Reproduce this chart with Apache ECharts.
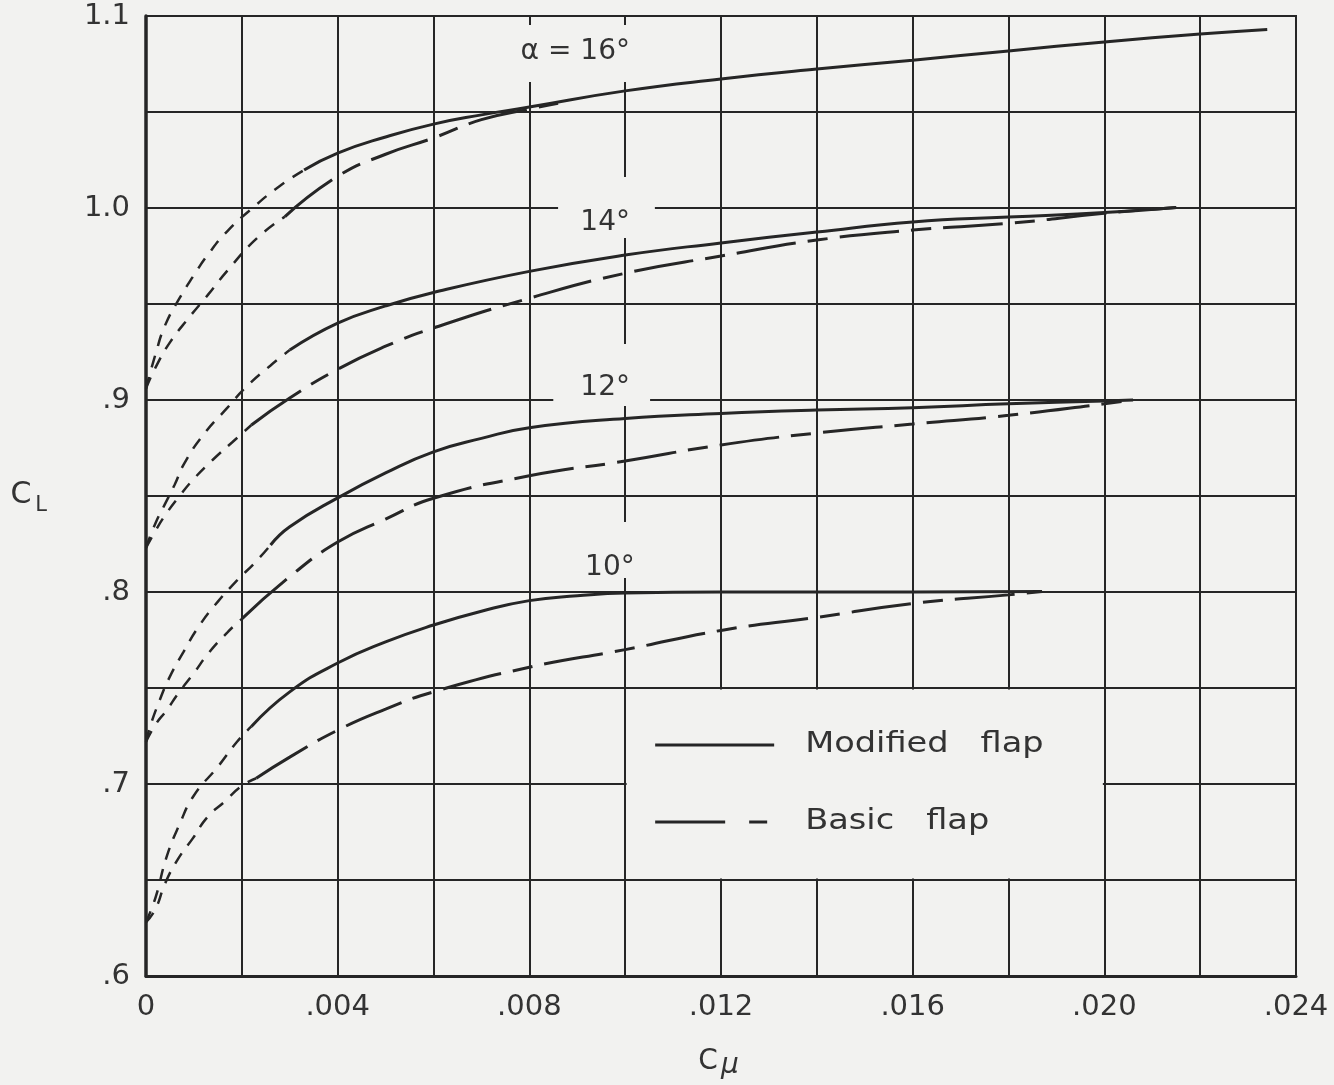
<!DOCTYPE html>
<html>
<head>
<meta charset="utf-8">
<title>CL vs Cmu</title>
<script src="https://cdn.jsdelivr.net/npm/echarts@6/dist/echarts.min.js"></script>
<style>
  html, body { margin: 0; padding: 0; background: #f2f2f0; }
  #main { width: 1334px; height: 1085px; }
</style>
</head>
<body>
<div id="main"></div>
<script>
// tick labels
var xTickLabels = ['0', '.004', '.008', '.012', '.016', '.020', '.024'];
var yTickLabels = ['.6', '.7', '.8', '.9', '1.0', '1.1'];

// alpha = 16 deg
var cmuMod16 = [0, .0002, .0004, .0007, .001, .0013, .0017, .0022, .0028, .0033, .004, .005, .006, .007, .008, .010, .012, .014, .016, .018, .020, .022, .0234];
var clMod16  = [.906, .924, .939, .953, .965, .976, .988, .9995, 1.0116, 1.0198, 1.0286, 1.037, 1.0437, 1.0485, 1.0526, 1.061, 1.0672, 1.0724, 1.077, 1.0818, 1.0865, 1.0906, 1.093];
var brkMod16 = 9;
var cmuBas16 = [0, .0002, .0005, .0009, .0013, .0017, .0023, .0029, .004, .005, .006, .007, .008, .0086];
var clBas16  = [.906, .917, .930, .943, .955, .9674, .9839, .9955, 1.0165, 1.028, 1.0365, 1.046, 1.0515, 1.0545];
var brkBas16 = 7;

// alpha = 14 deg
var cmuMod14 = [0, .0002, .0004, .0006, .0008, .0012, .0017, .0021, .0026, .003, .004, .005, .006, .008, .010, .012, .014, .016, .018, .020, .0215];
var clMod14  = [.823, .836, .846, .856, .867, .882, .896, .907, .918, .926, .940, .949, .956, .967, .9755, .9818, .9875, .9927, .9953, .9976, 1.0003];
var brkMod14 = 9;
var cmuBas14 = [0, .0002, .0004, .0007, .001, .0014, .0018, .0022, .003, .004, .005, .006, .008, .010, .012, .014, .016, .018, .020, .0215];
var clBas14  = [.823, .832, .840, .850, .859, .869, .878, .887, .901, .916, .928, .9375, .953, .966, .975, .9833, .9885, .992, .9972, 1.0003];
var brkBas14 = 7;

// alpha = 12 deg
var cmuMod12 = [0, .0001, .00026, .00048, .00078, .0011, .0015, .0019, .0023, .0026, .003, .004, .005, .006, .007, .008, .010, .012, .014, .016, .018, .020, .0206];
var clMod12  = [.722, .731, .742, .755, .7687, .782, .795, .806, .816, .8245, .834, .849, .862, .873, .880, .8856, .8904, .893, .8948, .896, .898, .8995, .9];
var brkMod12 = 9;
var cmuBas12 = [0, .0002, .00043, .00068, .001, .0013, .0017, .002, .003, .004, .005, .006, .008, .010, .012, .014, .016, .018, .020, .0206];
var clBas12  = [.722, .731, .7384, .7474, .7578, .768, .779, .786, .808, .826, .838, .8488, .8605, .8682, .8766, .8828, .8875, .892, .898, .9];
var brkBas12 = 7;

// alpha = 10 deg
var cmuMod10 = [0, .0002, .00043, .0007, .001, .0015, .0019, .0022, .003, .004, .005, .006, .007, .008, .009, .010, .012, .014, .016, .0187];
var clMod10  = [.628, .641, .662, .679, .694, .709, .722, .730, .748, .763, .774, .7828, .790, .7955, .798, .7995, .8, .8, .8, .8003];
var brkMod10 = 7;
var cmuBas10 = [0, .0002, .0004, .00067, .00098, .00128, .00163, .002, .0023, .003, .004, .005, .006, .008, .010, .012, .014, .016, .018, .0187];
var clBas10  = [.628, .635, .6483, .661, .6718, .6827, .6906, .699, .703, .714, .728, .739, .748, .7608, .770, .780, .7868, .794, .7985, .8003];
var brkBas10 = 8;

var INK = '#262626', PAPER = '#f2f2f0';
var FONT = '"DejaVu Sans", sans-serif';
var FAIRED = [12, 10];           // short dashes near Cmu = 0
var BASIC = [60, 12, 20, 12];    // long dash, basic flap

var chart = echarts.init(document.getElementById('main'));
var series = [];

// one curve = faired short-dash part + main part
function addCurve(cmu, cl, brk, mainType) {
  var pts = cmu.map(function (x, i) { return [x, cl[i]]; });
  var common = { type: 'line', showSymbol: false, symbol: 'none', smooth: 0.5, silent: true, z: 3 };
  series.push(Object.assign({}, common, {
    data: pts.slice(0, brk + 1),
    lineStyle: { color: INK, width: 2.5, type: FAIRED }
  }));
  series.push(Object.assign({}, common, {
    data: pts.slice(brk),
    lineStyle: { color: INK, width: 3, type: mainType }
  }));
}

addCurve(cmuMod16, clMod16, brkMod16, 'solid');
addCurve(cmuBas16, clBas16, brkBas16, BASIC);
addCurve(cmuMod14, clMod14, brkMod14, 'solid');
addCurve(cmuBas14, clBas14, brkBas14, BASIC);
addCurve(cmuMod12, clMod12, brkMod12, 'solid');
addCurve(cmuBas12, clBas12, brkBas12, BASIC);
addCurve(cmuMod10, clMod10, brkMod10, 'solid');
addCurve(cmuBas10, clBas10, brkBas10, BASIC);

chart.setOption({
  backgroundColor: PAPER,
  animation: false,
  grid: { left: 146, right: 38, top: 16, bottom: 109, show: true, borderColor: INK, borderWidth: 2 },
  xAxis: {
    type: 'value', min: 0, max: 0.024, interval: 0.002,
    axisLine: { show: true, onZero: false, lineStyle: { color: INK, width: 3 } },
    axisTick: { show: false },
    splitLine: { show: true, lineStyle: { color: INK, width: 2 } },
    axisLabel: {
      margin: 17, color: '#333', fontSize: 29, fontFamily: FONT,
      formatter: function (v) {
        var k = Math.round(v / 0.002);
        return k % 2 ? '' : xTickLabels[k / 2];
      }
    }
  },
  yAxis: {
    type: 'value', min: 0.6, max: 1.1, interval: 0.05,
    axisLine: { show: true, onZero: false, lineStyle: { color: INK, width: 3.5 } },
    axisTick: { show: false },
    splitLine: { show: true, lineStyle: { color: INK, width: 2 } },
    axisLabel: {
      margin: 16, color: '#333', fontSize: 29, fontFamily: FONT,
      formatter: function (v) {
        var k = Math.round((v - 0.6) / 0.05);
        return k % 2 ? '' : yTickLabels[k / 2];
      }
    }
  },
  series: series
});

// grid gaps behind the angle labels (data coords: x0, y0, x1, y1)
var gapBoxes = [
  [0.00787, 1.0953, 0.01031, 1.0656],
  [0.00860, 1.0161, 0.01062, 0.9844],
  [0.00850, 0.9292, 0.01052, 0.8969],
  [0.00864, 0.8365, 0.01052, 0.8073]
];
// angle labels: right edge / middle
var angleLabels = ['\u03b1 = 16\u00b0', '14\u00b0', '12\u00b0', '10\u00b0'];
var angleAnchors = [[0.0101, 1.0813], [0.0101, 0.9922], [0.0101, 0.9063], [0.0102, 0.8125]];

function px(x, y) { return chart.convertToPixel({ gridIndex: 0 }, [x, y]); }

var g = [];
gapBoxes.forEach(function (b) {
  var a = px(b[0], b[1]), c = px(b[2], b[3]);
  g.push({ type: 'rect', z: 1, silent: true, shape: { x: a[0], y: a[1], width: c[0] - a[0], height: c[1] - a[1] }, style: { fill: PAPER } });
});
angleLabels.forEach(function (t, i) {
  var p = px(angleAnchors[i][0], angleAnchors[i][1]);
  g.push({ type: 'text', z: 4, silent: true, x: p[0], y: p[1],
    style: { text: t, font: '28px ' + FONT, fill: '#333', textAlign: 'right', align: 'right', textVerticalAlign: 'middle', verticalAlign: 'middle' } });
});

// legend box: blank cell block [.010,.020] x [.65,.75]
var lb0 = px(0.010, 0.75), lb1 = px(0.020, 0.65);
g.push({ type: 'rect', z: 1, silent: true, shape: { x: lb0[0] + 1.5, y: lb0[1] + 1.5, width: lb1[0] - lb0[0] - 3, height: lb1[1] - lb0[1] - 3 }, style: { fill: PAPER } });
var lx = lb0[0], ly = lb0[1];
g.push({ type: 'line', z: 4, silent: true, shape: { x1: lx + 30, y1: ly + 57, x2: lx + 149, y2: ly + 57 }, style: { stroke: INK, lineWidth: 3 } });
g.push({ type: 'line', z: 4, silent: true, shape: { x1: lx + 30, y1: ly + 134, x2: lx + 100, y2: ly + 134 }, style: { stroke: INK, lineWidth: 3 } });
g.push({ type: 'line', z: 4, silent: true, shape: { x1: lx + 124, y1: ly + 134, x2: lx + 142, y2: ly + 134 }, style: { stroke: INK, lineWidth: 3 } });
[['Modified   flap', 57], ['Basic   flap', 134]].forEach(function (d) {
  g.push({ type: 'text', z: 4, silent: true, x: lx + 180, y: ly + d[1], scaleX: 1.2,
    style: { text: d[0], font: '28px ' + FONT, fill: '#333', textAlign: 'left', align: 'left', textVerticalAlign: 'middle', verticalAlign: 'middle' } });
});

// axis titles C_L and C_mu
g.push({ type: 'text', z: 4, silent: true, x: 21, y: 495, style: { text: 'C', font: '30px ' + FONT, fill: '#333', textAlign: 'center', align: 'center', textVerticalAlign: 'middle', verticalAlign: 'middle' } });
g.push({ type: 'text', z: 4, silent: true, x: 41, y: 506, style: { text: 'L', font: '21px ' + FONT, fill: '#333', textAlign: 'center', align: 'center', textVerticalAlign: 'middle', verticalAlign: 'middle' } });
g.push({ type: 'text', z: 4, silent: true, x: 708, y: 1062, style: { text: 'C', font: '28px ' + FONT, fill: '#333', textAlign: 'center', align: 'center', textVerticalAlign: 'middle', verticalAlign: 'middle' } });
g.push({ type: 'text', z: 4, silent: true, x: 730, y: 1066, style: { text: '\u03bc', font: 'italic 28px ' + FONT, fill: '#333', textAlign: 'center', align: 'center', textVerticalAlign: 'middle', verticalAlign: 'middle' } });

chart.setOption({ graphic: { elements: g } });
</script>
</body>
</html>
